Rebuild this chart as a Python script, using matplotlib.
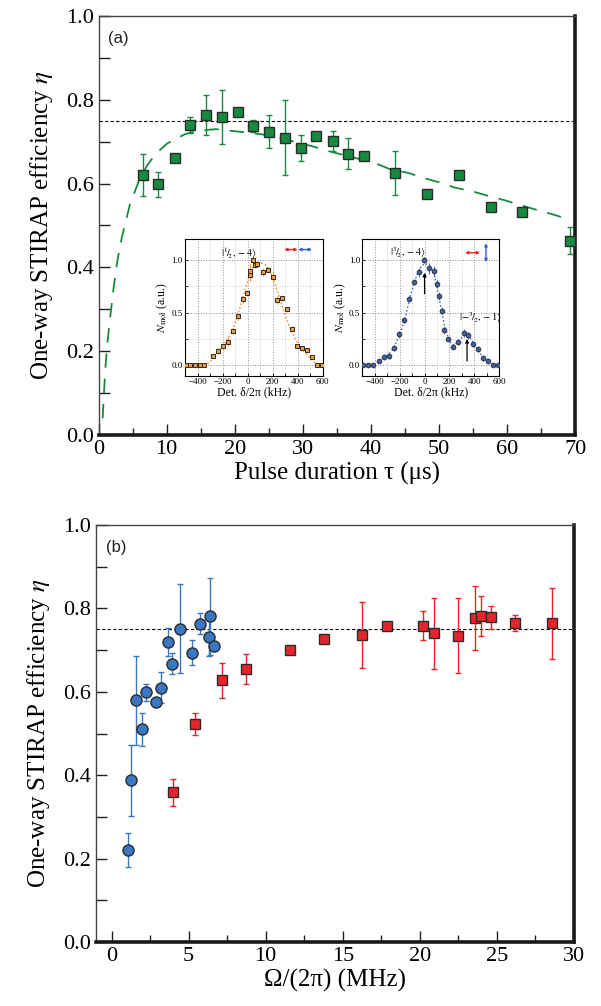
import matplotlib
matplotlib.use("Agg")
import matplotlib.pyplot as plt
from matplotlib.ticker import MultipleLocator

plt.rcParams['font.family'] = ['Liberation Serif', 'DejaVu Serif']
plt.rcParams['mathtext.fontset'] = 'stix'

# --- panel (a): efficiency vs pulse duration ---
tau = [6.5, 8.8, 11.2, 13.5, 15.8, 18.2, 20.5, 22.7, 25.1, 27.4, 29.7, 32.0,
       34.4, 36.7, 39.0, 43.6, 48.3, 52.9, 57.6, 62.2, 69.2]
eta_a = [0.621, 0.598, 0.660, 0.740, 0.763, 0.759, 0.771, 0.737, 0.724, 0.710,
         0.686, 0.714, 0.701, 0.671, 0.667, 0.625, 0.575, 0.621, 0.545, 0.533, 0.464]
err_a = [0.05, 0.03, 0.0, 0.02, 0.048, 0.064, 0.0, 0.015, 0.04, 0.09, 0.031,
         0.0, 0.024, 0.037, 0.0, 0.052, 0.0, 0.0, 0.0, 0.0, 0.033]

# model curve
tau_fit = [0.6, 0.8, 1.0, 1.3, 1.7, 2.2, 2.8, 3.4, 4.0, 4.6, 5.3, 6.0, 7.2, 8.4,
           10.1, 12.7, 14.6, 17.2, 19.4, 22.4, 25.5, 28.5, 31.4, 33.9, 37.5,
           40.9, 42.7, 45.6, 47.8, 50.3, 52.2, 55.0, 57.2, 59.7, 61.7, 64.4,
           66.4, 69.0]
eta_fit = [0.04, 0.10, 0.16, 0.22, 0.28, 0.35, 0.42, 0.47, 0.51, 0.55, 0.58,
           0.61, 0.645, 0.671, 0.696, 0.718, 0.726, 0.730, 0.726, 0.721, 0.714,
           0.701, 0.689, 0.677, 0.662, 0.647, 0.635, 0.625, 0.613, 0.602, 0.591,
           0.581, 0.571, 0.56, 0.55, 0.537, 0.528, 0.515]

# --- inset 1: |1/2,-4> spectrum ---
det1 = [-495, -457, -418, -380, -345, -276, -236, -196, -156, -119, -79, -39,
        -2, 20, 23, 45, 58, 72, 120, 160, 205, 238, 278, 318, 355, 397, 437,
        477, 517, 555, 592]
n1 = [0, 0, 0, 0, 0, 0.085, 0.136, 0.183, 0.224, 0.325, 0.464, 0.625, 0.688,
      0.90, 0.855, 1.0, 0.95, 0.962, 0.886, 0.908, 0.842, 0.621, 0.64, 0.53,
      0.347, 0.183, 0.167, 0.142, 0.079, 0, 0]
n1_err = [0, 0, 0, 0, 0, 0.02, 0.03, 0.03, 0.04, 0.03, 0.03, 0.03, 0.03, 0.06,
          0.05, 0.03, 0.03, 0.03, 0.04, 0.03, 0.05, 0.04, 0.03, 0.02, 0.03,
          0.02, 0.02, 0.02, 0.02, 0, 0]
det1_fit = [-500, -340, -300, -260, -220, -180, -140, -100, -60, -20, 20, 60,
            100, 140, 180, 220, 260, 300, 340, 380, 420, 460, 500, 540, 580, 600]
n1_fit = [0, 0.0, 0.03, 0.10, 0.15, 0.21, 0.29, 0.40, 0.55, 0.72, 0.88, 0.96,
          0.975, 0.96, 0.90, 0.77, 0.62, 0.48, 0.35, 0.25, 0.18, 0.12, 0.07,
          0.02, 0.0, 0.0]

# --- inset 2: |3/2,-4> spectrum ---
det2 = [-492, -455, -417, -364, -327, -284, -247, -204, -164, -125, -85, -45,
        -5, 35, 75, 97, 115, 136, 155, 192, 232, 272, 315, 352, 392, 432, 472,
        512, 552, 592]
n2 = [0, 0, 0, 0.038, 0.079, 0.088, 0.164, 0.293, 0.432, 0.631, 0.789, 0.883,
      1.0, 0.921, 0.893, 0.773, 0.656, 0.520, 0.331, 0.246, 0.173, 0.221,
      0.309, 0.284, 0.205, 0.151, 0.069, 0.038, 0, 0]
n2_err = [0, 0, 0, 0.02, 0.03, 0.03, 0.03, 0.03, 0.03, 0.03, 0.03, 0.04, 0.03,
          0.05, 0.05, 0.04, 0.04, 0.03, 0.03, 0.02, 0.02, 0.03, 0.04, 0.03,
          0.03, 0.03, 0.03, 0.03, 0, 0]
det2_fit = [-500, -400, -350, -300, -250, -200, -160, -120, -80, -40, 0, 40,
            80, 120, 160, 200, 240, 280, 320, 360, 400, 440, 480, 520, 560, 600]
n2_fit = [0, 0.01, 0.05, 0.09, 0.16, 0.29, 0.43, 0.63, 0.80, 0.92, 0.97, 0.95,
          0.85, 0.62, 0.38, 0.22, 0.19, 0.24, 0.29, 0.27, 0.20, 0.12, 0.06,
          0.03, 0.005, 0]

# --- panel (b): efficiency vs Rabi frequency ---
om_blue = [1.09, 1.24, 1.56, 1.97, 2.26, 2.86, 3.21, 3.66, 3.92, 4.44, 5.19,
           5.75, 6.36, 6.34, 6.66]
eta_blue = [0.221, 0.388, 0.580, 0.510, 0.599, 0.576, 0.610, 0.720, 0.667,
            0.751, 0.694, 0.763, 0.781, 0.731, 0.711]
err_blue = [0.04, 0.085, 0.107, 0.04, 0.02, 0.0, 0.037, 0.034, 0.025, 0.107,
            0.03, 0.025, 0.093, 0.045, 0.0]

om_red = [3.98, 5.43, 7.16, 8.69, 11.56, 13.8, 16.24, 17.84, 20.2, 20.9, 22.5,
          23.56, 24.0, 24.6, 26.2, 28.6]
eta_red = [0.359, 0.523, 0.628, 0.654, 0.700, 0.727, 0.736, 0.757, 0.759, 0.740,
           0.735, 0.777, 0.781, 0.779, 0.765, 0.764]
err_red = [0.033, 0.026, 0.042, 0.036, 0.0, 0.005, 0.08, 0.0, 0.034, 0.085,
           0.09, 0.077, 0.048, 0.028, 0.02, 0.085]

eta_ref = 0.75

GREEN = '#168a3f'
BLUE = '#3a77c2'
RED = '#e8242a'
EDGE = '#2b2b2b'


def style_main(ax):
    for s in ['left', 'top']:
        ax.spines[s].set_linewidth(1.0)
        ax.spines[s].set_color('#444444')
    for s in ['bottom', 'right']:
        ax.spines[s].set_linewidth(2.6)
        ax.spines[s].set_color('#1a1a1a')
    ax.tick_params(which='both', direction='in', top=False, right=False,
                   labelsize=16, color='#222222')
    ax.tick_params(which='major', length=8, width=1.0)
    ax.tick_params(which='minor', length=5, width=1.0)
    ax.tick_params(axis='y', which='minor', length=8)
    ax.set_ylim(0, 1.0)
    ax.yaxis.set_major_locator(MultipleLocator(0.2))
    ax.yaxis.set_minor_locator(MultipleLocator(0.1))
    ax.yaxis.set_major_formatter(matplotlib.ticker.FormatStrFormatter('%.1f'))
    ax.set_ylabel(r'One-way STIRAP efficiency $\eta$', fontsize=18, labelpad=8)


def style_inset(ax):
    ax.set_xlim(-500, 600)
    ax.set_ylim(-0.1, 1.2)
    ax.xaxis.set_major_locator(MultipleLocator(200))
    ax.xaxis.set_minor_locator(MultipleLocator(100))
    ax.yaxis.set_major_locator(MultipleLocator(0.5))
    ax.yaxis.set_minor_locator(MultipleLocator(0.25))
    ax.yaxis.set_major_formatter(matplotlib.ticker.FormatStrFormatter('%.1f'))
    ax.tick_params(which='both', direction='in', labelsize=6.5, length=2,
                   width=0.6, pad=1.5)
    ax.grid(which='major', ls=':', color='#8c8c8c', lw=0.7)
    ax.grid(which='minor', ls=':', color='#c8c8c8', lw=0.6)
    for s in ax.spines.values():
        s.set_linewidth(0.8)
    ax.set_xlabel('Det. δ/2π (kHz)', fontsize=8.5, labelpad=0.5)
    ax.set_ylabel(r'$N_{\mathrm{mol}}$ (a.u.)', fontsize=8.5, labelpad=1)


def double_arrow(ax, start, end, color):
    ax.annotate('', xy=end, xytext=start,
                arrowprops=dict(arrowstyle='<|-|>', color=color, lw=1.0,
                                mutation_scale=4, shrinkA=0, shrinkB=0))


def up_arrow(ax, start, end):
    ax.annotate('', xy=end, xytext=start,
                arrowprops=dict(arrowstyle='-|>', color='black', lw=0.9,
                                mutation_scale=5, shrinkA=0, shrinkB=0))


fig = plt.figure(figsize=(6.01, 10.06), dpi=100)

# ---------------- panel (a) ----------------
ax1 = fig.add_axes([0.164, 0.5676, 0.793, 0.4165])
style_main(ax1)
ax1.set_xlim(0, 70)
ax1.xaxis.set_major_locator(MultipleLocator(10))
ax1.xaxis.set_minor_locator(MultipleLocator(5))
ax1.axhline(eta_ref, color='black', ls=(0, (3, 2)), lw=0.8, zorder=1)
ax1.plot(tau_fit, eta_fit, color=GREEN, lw=1.3, dashes=(8, 6), zorder=2)
ax1.errorbar(tau, eta_a, yerr=err_a, fmt='s', ms=7.5, mfc=GREEN, mec=EDGE,
             mew=1.0, ecolor=GREEN, elinewidth=1.0, capsize=2, capthick=1.0,
             zorder=3)
ax1.set_xlabel('Pulse duration τ (μs)', fontsize=18, labelpad=2)
ax1.text(0.02, 0.965, '(a)', transform=ax1.transAxes, fontsize=12,
         family='Liberation Sans', va='top', ha='left', color='#222222')

# inset 1
in1 = fig.add_axes([0.3078, 0.6265, 0.2291, 0.1359])
style_inset(in1)
in1.plot(det1_fit, n1_fit, color='#f5902f', ls=(0, (1, 1.5)), lw=1.1, zorder=2)
in1.errorbar(det1, n1, yerr=n1_err, fmt='s', ms=3.3, mfc='#f29a3a', mec='#2b2b2b',
             mew=0.7, ecolor='#f5902f', elinewidth=0.8, capsize=0, zorder=3)
in1.text(-70, 1.07, r'$|{}^{1}\!/\!{}_{2},-4\rangle$', fontsize=7.5, ha='center',
         va='center')
double_arrow(in1, (293, 1.1), (400, 1.1), '#e8242a')
double_arrow(in1, (405, 1.1), (515, 1.1), '#3060c0')

# inset 2
in2 = fig.add_axes([0.6028, 0.6265, 0.228, 0.1359])
style_inset(in2)
in2.plot(det2_fit, n2_fit, color='#4a6fc4', ls=(0, (1, 1.5)), lw=1.1, zorder=2)
in2.errorbar(det2, n2, yerr=n2_err, fmt='o', ms=3.4, mfc='#3e5ea8', mec='#2b2b2b',
             mew=0.6, ecolor='#4a72cc', elinewidth=0.8, capsize=0, zorder=3)
in2.text(-130, 1.07, r'$|{}^{3}\!/\!{}_{2},-4\rangle$', fontsize=7.5, ha='center',
         va='center')
in2.text(450, 0.45, r'$|{-}{}^{3}\!/\!{}_{2},-1\rangle$', fontsize=7.5, ha='center',
         va='center')
up_arrow(in2, (0, 0.68), (0, 0.88))
up_arrow(in2, (341, 0.04), (341, 0.25))
double_arrow(in2, (325, 1.07), (445, 1.07), '#e8242a')
double_arrow(in2, (493, 0.98), (493, 1.16), '#3060c0')

# ---------------- panel (b) ----------------
ax2 = fig.add_axes([0.160, 0.0636, 0.795, 0.4145])
style_main(ax2)
ax2.set_xlim(-1, 30)
ax2.xaxis.set_major_locator(MultipleLocator(5))
ax2.xaxis.set_minor_locator(MultipleLocator(2.5))
ax2.axhline(eta_ref, color='black', ls=(0, (3, 2)), lw=0.8, zorder=1)
ax2.errorbar(om_red, eta_red, yerr=err_red, fmt='s', ms=7.5, mfc=RED, mec=EDGE,
             mew=1.0, ecolor=RED, elinewidth=1.0, capsize=2, capthick=1.0,
             zorder=3)
ax2.errorbar(om_blue, eta_blue, yerr=err_blue, fmt='o', ms=8, mfc=BLUE, mec=EDGE,
             mew=1.0, ecolor=BLUE, elinewidth=1.0, capsize=2, capthick=1.0,
             zorder=4)
ax2.set_xlabel('Ω/(2π) (MHz)', fontsize=18, labelpad=2)
ax2.text(0.02, 0.965, '(b)', transform=ax2.transAxes, fontsize=12,
         family='Liberation Sans', va='top', ha='left', color='#222222')

fig.savefig('out.png', dpi=100, facecolor='white')
